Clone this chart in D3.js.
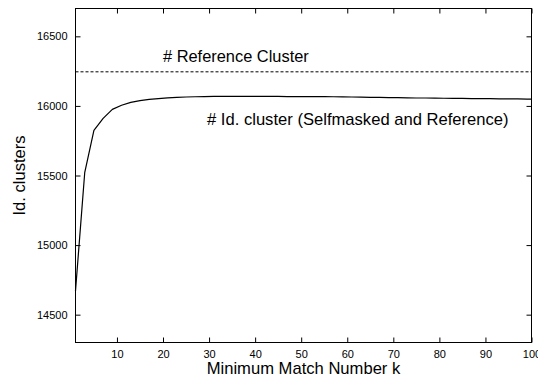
<!DOCTYPE html>
<html>
<head>
<meta charset="utf-8">
<script src="https://cdn.jsdelivr.net/npm/d3@7"></script>
<style>
  html, body { margin: 0; padding: 0; background: #fff; }
  svg { display: block; font-family: "Liberation Sans", Arial, Helvetica, sans-serif; }
</style>
</head>
<body>
<svg id="chart" width="538" height="378"></svg>
<script>
// Minimum match number k
const kValues = [1, 3, 5, 7, 9, 11, 13, 15, 17, 19, 21, 23, 25, 27, 29, 31, 33, 35, 37, 39,
  41, 43, 45, 47, 49, 51, 53, 55, 57, 59, 61, 63, 65, 67, 69, 71, 73, 75, 77, 79,
  81, 83, 85, 87, 89, 91, 93, 95, 97, 99, 100];
// Identified clusters (selfmasked and reference)
const idClusters = [14670, 15520, 15825, 15910, 15975, 16005, 16025, 16038, 16047, 16053,
  16058, 16061, 16064, 16066, 16067, 16068, 16068, 16068, 16068, 16068,
  16068, 16068, 16068, 16067, 16067, 16067, 16067, 16067, 16066, 16065,
  16064, 16063, 16062, 16061, 16060, 16059, 16058, 16057, 16057, 16056,
  16055, 16054, 16054, 16053, 16052, 16052, 16051, 16050, 16050, 16049, 16049];
// Reference cluster count
const referenceCluster = 16245;

const xTicks = [10, 20, 30, 40, 50, 60, 70, 80, 90, 100];
const yTicks = [14500, 15000, 15500, 16000, 16500];
const xDomain = [1, 100];
const yDomain = [14300, 16700];

const plotLeft = 75.5, plotRight = 531.5, plotTop = 8.5, plotBottom = 342.5;

const svg = d3.select("#chart");
const x = d3.scaleLinear().domain(xDomain).range([plotLeft, plotRight]);
const y = d3.scaleLinear().domain(yDomain).range([plotBottom, plotTop]);

// Frame
svg.append("rect")
  .attr("x", plotLeft).attr("y", plotTop)
  .attr("width", plotRight - plotLeft).attr("height", plotBottom - plotTop)
  .attr("fill", "none").attr("stroke", "#000").attr("stroke-width", 1);

const tickLen = 5;
function styleAxis(g) {
  g.select(".domain").remove();
  g.selectAll(".tick line").attr("stroke", "#000").attr("stroke-width", 1);
  g.selectAll(".tick text").attr("font-size", 11).attr("fill", "#000")
    .attr("font-family", "Liberation Sans, Arial, sans-serif");
}

// Bottom axis (ticks inward)
svg.append("g")
  .attr("transform", `translate(0,${plotBottom})`)
  .call(d3.axisBottom(x).tickValues(xTicks).tickSizeInner(-tickLen).tickSizeOuter(0).tickPadding(7.5).tickFormat(d3.format("d")))
  .call(styleAxis);
// Top mirror ticks
svg.append("g")
  .attr("transform", `translate(0,${plotTop})`)
  .call(d3.axisTop(x).tickValues(xTicks).tickSizeInner(-tickLen).tickSizeOuter(0).tickFormat(""))
  .call(styleAxis);
// Left axis
svg.append("g")
  .attr("transform", `translate(${plotLeft},0)`)
  .call(d3.axisLeft(y).tickValues(yTicks).tickSizeInner(-tickLen).tickSizeOuter(0).tickPadding(8).tickFormat(d3.format("d")))
  .call(styleAxis);
// Right mirror ticks
svg.append("g")
  .attr("transform", `translate(${plotRight},0)`)
  .call(d3.axisRight(y).tickValues(yTicks).tickSizeInner(-tickLen).tickSizeOuter(0).tickFormat(""))
  .call(styleAxis);

// Reference cluster level (dashed)
svg.append("line")
  .attr("x1", x(xDomain[0])).attr("x2", x(xDomain[1]))
  .attr("y1", y(referenceCluster)).attr("y2", y(referenceCluster))
  .attr("stroke", "#000").attr("stroke-width", 1)
  .attr("stroke-dasharray", "3,2");

// Identified clusters curve
const line = d3.line().x((d, i) => x(kValues[i])).y(d => y(d));
svg.append("path")
  .datum(idClusters)
  .attr("d", line)
  .attr("fill", "none").attr("stroke", "#000").attr("stroke-width", 1.2)
  .attr("stroke-linejoin", "round");

// Series labels
svg.append("text")
  .attr("x", 163).attr("y", 62)
  .attr("font-size", 16.4).text("# Reference Cluster");
svg.append("text")
  .attr("x", 207).attr("y", 125)
  .attr("font-size", 16.6).text("# Id. cluster (Selfmasked and Reference)");

// Axis titles
svg.append("text")
  .attr("x", (plotLeft + plotRight) / 2).attr("y", 374)
  .attr("text-anchor", "middle").attr("font-size", 16.6)
  .text("Minimum Match Number k");
svg.append("text")
  .attr("transform", `translate(25,${(plotTop + plotBottom) / 2}) rotate(-90)`)
  .attr("text-anchor", "middle").attr("font-size", 16.6)
  .text("Id. clusters");
</script>
</body>
</html>
